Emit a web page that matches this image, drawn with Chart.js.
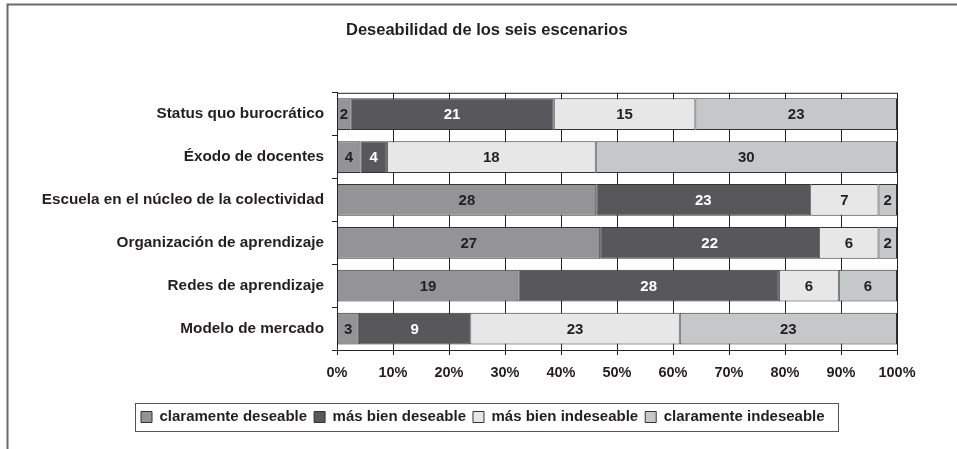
<!DOCTYPE html>
<html>
<head>
<meta charset="utf-8">
<script src="https://cdn.jsdelivr.net/npm/chart.js@4"></script>
<style>
    html, body { margin: 0; padding: 0; background: #fff; }
    #wrap { position: relative; width: 957px; height: 449px; }
</style>
</head>
<body>
<div id="wrap"><canvas id="chart" width="957" height="449"></canvas></div>
<script>
const scenarios = [
    'Status quo burocrático',
    'Éxodo de docentes',
    'Escuela en el núcleo de la colectividad',
    'Organización de aprendizaje',
    'Redes de aprendizaje',
    'Modelo de mercado'
];

// share of answers (%)
const pctClaramenteDeseable = [2.4, 4.2, 46.3, 47.0, 32.4, 3.9];
const pctMasBienDeseable = [36.3, 4.7, 38.2, 39.1, 46.5, 19.9];
const pctMasBienIndeseable = [25.3, 37.3, 12.2, 10.6, 10.7, 37.4];
const pctClaramenteIndeseable = [36.0, 53.8, 3.3, 3.3, 10.4, 38.8];

// numbers printed inside the bars
const nClaramenteDeseable = [2, 4, 28, 27, 19, 3];
const nMasBienDeseable = [21, 4, 23, 22, 28, 9];
const nMasBienIndeseable = [15, 18, 7, 6, 6, 23];
const nClaramenteIndeseable = [23, 30, 2, 2, 6, 23];

const xTicks = [0, 10, 20, 30, 40, 50, 60, 70, 80, 90, 100];

const FONT = "'Liberation Sans', Arial, sans-serif";
const INK = '#231f20';

function makeSet(label, pct, counts, color, textColor) {
    return {
        label: label,
        data: pct,
        counts: counts,
        textColor: textColor,
        backgroundColor: color,
        borderColor: '#333333',
        borderWidth: 1,
        borderSkipped: false,
        barPercentage: 0.74,
        categoryPercentage: 1
    };
}

// frame, top border of the plot, legend box, bar labels
const extras = {
    id: 'extras',
    afterLayout(chart) {
        if (chart.titleBlock) {
            chart.titleBlock.left += 9;
            chart.titleBlock.right += 9;
        }
        const lg = chart.legend;
        if (lg) {
            const d = 134 - lg.left;
            lg.left += d;
            lg.right += d;
            lg.legendHitBoxes.forEach(b => { b.left += d; });
        }
    },
    beforeDraw(chart) {
        const ctx = chart.ctx;
        ctx.save();
        ctx.strokeStyle = '#6b6b6b';
        ctx.lineWidth = 2;
        ctx.beginPath();
        ctx.moveTo(7.5, 449);
        ctx.lineTo(7.5, 4.5);
        ctx.lineTo(957, 4.5);
        ctx.stroke();
        ctx.restore();
    },
    beforeDatasetsDraw(chart) {
        const {ctx, chartArea} = chart;
        ctx.save();
        ctx.strokeStyle = '#222';
        ctx.lineWidth = 1;
        ctx.beginPath();
        ctx.moveTo(chartArea.left, chartArea.top + 0.5);
        ctx.lineTo(chartArea.right, chartArea.top + 0.5);
        ctx.stroke();
        ctx.restore();
    },
    afterDatasetsDraw(chart) {
        const ctx = chart.ctx;
        ctx.save();
        ctx.font = 'bold 15px ' + FONT;
        ctx.textAlign = 'center';
        ctx.textBaseline = 'middle';
        chart.data.datasets.forEach((ds, di) => {
            chart.getDatasetMeta(di).data.forEach((el, i) => {
                const p = el.getProps(['x', 'base', 'y'], true);
                ctx.fillStyle = ds.textColor;
                ctx.fillText(String(ds.counts[i]), (p.x + p.base) / 2, p.y + 1);
            });
        });
        ctx.restore();
    },
    afterDraw(chart) {
        const lg = chart.legend;
        if (!lg || !lg.legendHitBoxes.length) return;
        const boxes = lg.legendHitBoxes;
        const first = boxes[0];
        const last = boxes[boxes.length - 1];
        const ctx = chart.ctx;
        ctx.save();
        ctx.strokeStyle = '#555';
        ctx.lineWidth = 1;
        ctx.strokeRect(Math.round(first.left - 6) + 0.5, Math.round(first.top - 7) + 0.5,
            Math.round(last.left + last.width + 13 - (first.left - 6)), Math.round(first.height + 13));
        ctx.restore();
    }
};

new Chart(document.getElementById('chart'), {
    type: 'bar',
    data: {
        labels: scenarios,
        datasets: [
            makeSet('claramente deseable', pctClaramenteDeseable, nClaramenteDeseable, '#949496', INK),
            makeSet('más bien deseable', pctMasBienDeseable, nMasBienDeseable, '#58585a', '#ffffff'),
            makeSet('más bien indeseable', pctMasBienIndeseable, nMasBienIndeseable, '#e7e7e8', INK),
            makeSet('claramente indeseable', pctClaramenteIndeseable, nClaramenteIndeseable, '#c6c7c8', INK)
        ]
    },
    options: {
        indexAxis: 'y',
        responsive: false,
        animation: false,
        devicePixelRatio: 1,
        layout: { padding: { left: 30, right: 60, top: 0, bottom: 14.5 } },
        plugins: {
            title: {
                display: true,
                text: 'Deseabilidad de los seis escenarios',
                fullSize: false,
                align: 'start',
                color: INK,
                font: { family: FONT, size: 16.5, weight: 'bold' },
                padding: { top: 21, bottom: 52 }
            },
            legend: {
                position: 'bottom',
                align: 'start',
                labels: {
                    color: INK,
                    font: { family: FONT, size: 15, weight: 'bold' },
                    boxWidth: 11,
                    boxHeight: 11,
                    padding: 7
                }
            },
            tooltip: { enabled: false }
        },
        scales: {
            x: {
                stacked: true,
                min: 0,
                max: 100,
                afterBuildTicks: s => { s.ticks = xTicks.map(v => ({ value: v })); },
                afterFit: s => { s.height = 52.5; },
                grid: { color: '#222', lineWidth: 1, tickLength: 5, drawTicks: true },
                border: { display: true, color: '#222', width: 1 },
                ticks: {
                    color: INK,
                    padding: 9,
                    font: { family: FONT, size: 14.5, weight: 'bold' },
                    callback: v => v + '%'
                }
            },
            y: {
                stacked: true,
                afterFit: s => { s.width = 307; },
                grid: { drawOnChartArea: false, color: '#222', tickLength: 5, offset: true },
                border: { display: true, color: '#222', width: 1 },
                ticks: {
                    color: INK,
                    padding: 8,
                    font: { family: FONT, size: 15.3, weight: 'bold' }
                }
            }
        }
    },
    plugins: [extras]
});
</script>
</body>
</html>
